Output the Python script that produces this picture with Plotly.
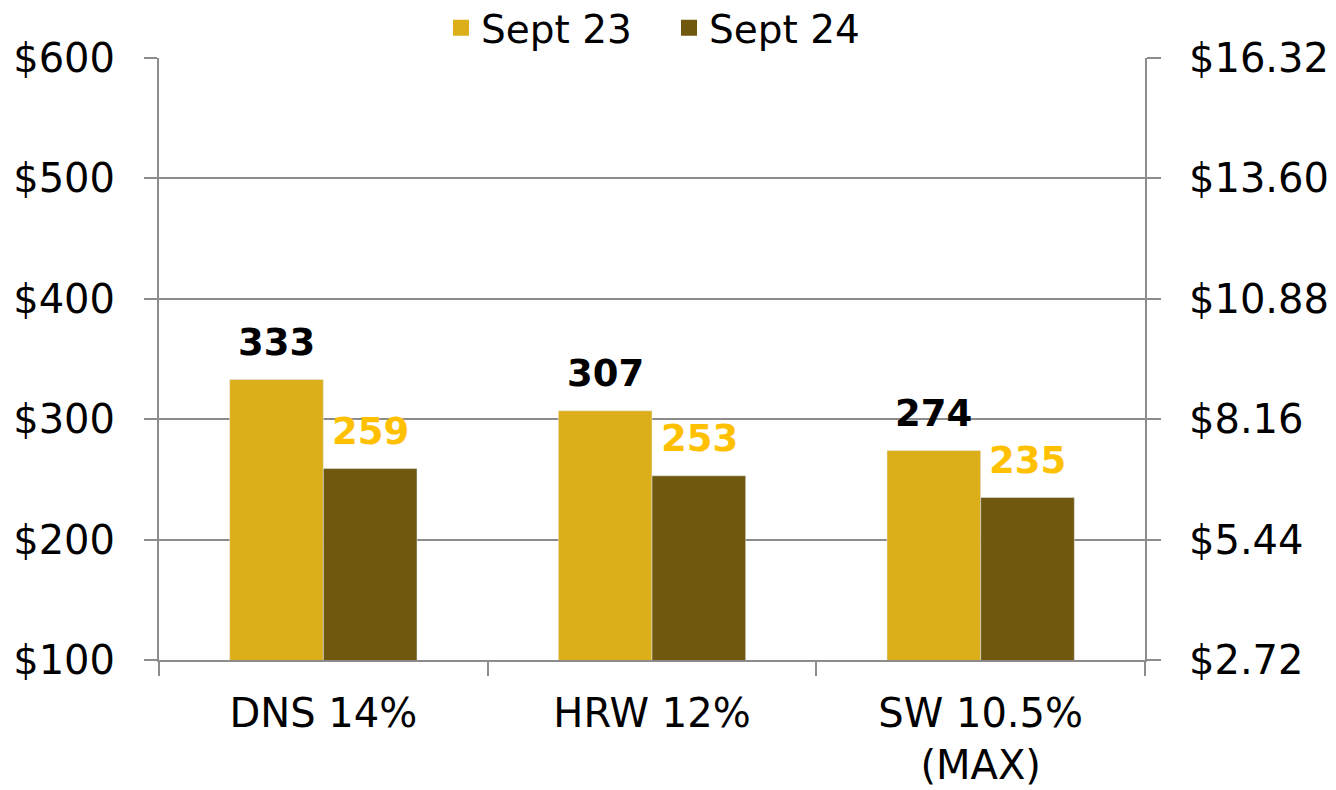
import plotly.graph_objects as go

categories = ["DNS 14%", "HRW 12%", "SW 10.5%<br>(MAX)"]
sept23 = [333, 307, 274]
sept24 = [259, 253, 235]
left_ticks = [100, 200, 300, 400, 500, 600]
right_ticks = [2.72, 5.44, 8.16, 10.88, 13.60, 16.32]

FONT = "Century Gothic, Futura, DejaVu Sans, sans-serif"
GOLD = "#DCAF1A"
BROWN = "#70580F"
LABEL_GOLD = "#FFC000"
GRID = "#8C8C8C"

fig = go.Figure()
fig.add_trace(go.Bar(x=categories, y=sept23, name="Sept 23", marker_color=GOLD,
                     showlegend=False))
fig.add_trace(go.Bar(x=categories, y=sept24, name="Sept 24", marker_color=BROWN,
                     showlegend=False))
# legend entries with bigger square swatches
for name, col in [("Sept 23", GOLD), ("Sept 24", BROWN)]:
    fig.add_trace(go.Scatter(x=[None], y=[None], mode="markers", name=name,
                             marker=dict(symbol="square", size=16, color=col)))
# invisible trace so the right-hand axis is drawn
fig.add_trace(go.Scatter(x=categories, y=[None] * 3, yaxis="y2", showlegend=False,
                         hoverinfo="skip"))

# value labels above each bar
for cat, v in zip(categories, sept23):
    fig.add_annotation(x=cat, y=v, text=f"<b>{v}</b>", showarrow=False, xshift=-47,
                       yshift=37, font=dict(family=FONT, size=37, color="black"))
for cat, v in zip(categories, sept24):
    fig.add_annotation(x=cat, y=v, text=f"<b>{v}</b>", showarrow=False, xshift=47,
                       yshift=37, font=dict(family=FONT, size=37, color=LABEL_GOLD))

# page body adds an 8px margin, so the figure is sized to fit inside it
fig.update_layout(
    width=1328, height=782,
    margin=dict(l=151, r=191, t=50, b=130, autoexpand=False),
    plot_bgcolor="white", paper_bgcolor="white",
    font=dict(family=FONT, size=40, color="black"),
    barmode="group", bargap=0.43, bargroupgap=0,
    legend=dict(orientation="h", x=0.286, xanchor="left", y=1.05, yanchor="middle",
                font=dict(size=39), traceorder="normal", itemwidth=30,
                entrywidth=183),
    xaxis=dict(type="category", tickson="boundaries", ticks="outside", ticklen=14,
               tickcolor=GRID, tickwidth=2, showline=True, linecolor=GRID, linewidth=2,
               showgrid=False, tickfont=dict(size=40), automargin=False,
               ticklabelstandoff=17),
    yaxis=dict(range=[100, 600], tickvals=left_ticks,
               ticktext=[f"${t}" for t in left_ticks], showgrid=True, gridcolor=GRID,
               gridwidth=2, ticks="outside", ticklen=13, tickcolor=GRID, tickwidth=2,
               showline=True, linecolor=GRID, linewidth=2, zeroline=False,
               tickfont=dict(size=40), ticklabelstandoff=21, automargin=False),
    yaxis2=dict(overlaying="y", side="right", range=[2.72, 16.32], tickvals=right_ticks,
                ticktext=[f"${t:.2f}" for t in right_ticks], showgrid=False,
                ticks="outside", ticklen=14, tickcolor=GRID, tickwidth=2, showline=True,
                linecolor=GRID, linewidth=2, zeroline=False, tickfont=dict(size=40),
                ticklabelstandoff=20, automargin=False),
)

fig.write_html("out.html")
